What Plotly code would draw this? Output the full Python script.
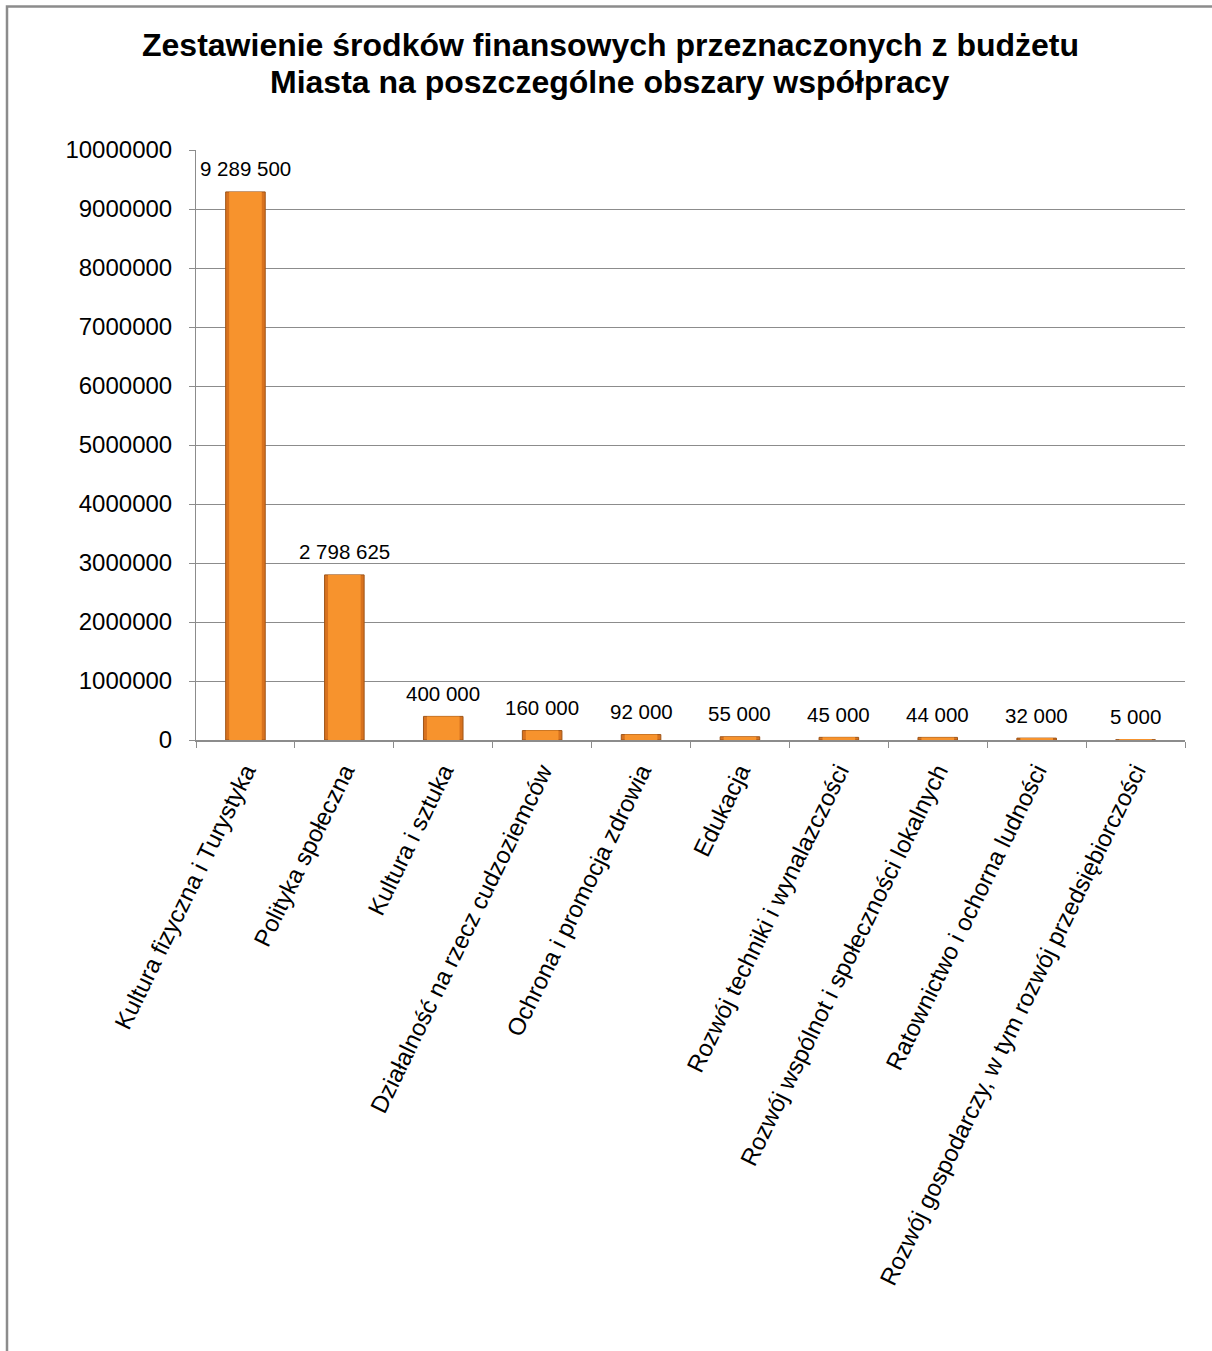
import plotly.graph_objects as go

categories = [
    "Kultura fizyczna i Turystyka",
    "Polityka społeczna",
    "Kultura i sztuka",
    "Działalność na rzecz cudzoziemców",
    "Ochrona i promocja zdrowia",
    "Edukacja",
    "Rozwój techniki i wynalazczości",
    "Rozwój wspólnot i społeczności lokalnych",
    "Ratownictwo i ochorna ludności",
    "Rozwój gospodarczy, w tym rozwój przedsiębiorczości",
]
values = [9289500, 2798625, 400000, 160000, 92000, 55000, 45000, 44000, 32000, 5000]
labels = ["9 289 500", "2 798 625", "400 000", "160 000", "92 000",
          "55 000", "45 000", "44 000", "32 000", "5 000"]
y_ticks = [0, 1000000, 2000000, 3000000, 4000000, 5000000,
           6000000, 7000000, 8000000, 9000000, 10000000]
title_lines = ["Zestawienie środków finansowych przeznaczonych z budżetu",
               "Miasta na poszczególne obszary współpracy"]

W, H = 1212, 1351
L, R, T, B = 196, 1185, 150, 740
FONT = "Liberation Sans, Arial"

fig = go.Figure()
# outer (darker edge) bar
fig.add_trace(go.Bar(
    x=categories, y=values, width=0.4,
    marker=dict(color="#D8721E", line=dict(color="#9E5518", width=1)),
    hoverinfo="skip",
))
# inner lighter fill
fig.add_trace(go.Bar(
    x=categories, y=values, width=0.33,
    marker=dict(color="#F7932D", line=dict(width=0)),
))

# data labels
for c, v, t in zip(categories, values, labels):
    fig.add_annotation(x=c, y=v, text=t, showarrow=False, xref="x", yref="y",
                       yanchor="middle", yshift=23,
                       font=dict(size=20.5, family=FONT, color="#000000"))

# title lines
for i, line in enumerate(title_lines):
    fig.add_annotation(x=610 / W, y=1 - (45 + 37 * i) / H, xref="paper", yref="paper",
                       text="<b>" + line + "</b>", showarrow=False,
                       xanchor="center", yanchor="middle",
                       font=dict(size=32, family=FONT, color="#000000"))

def px_to_paper_x(px):
    return (px - L) / (R - L)

def px_to_paper_y(py):
    return (B - py) / (B - T)

fig.add_shape(type="rect", xref="paper", yref="paper",
              x0=px_to_paper_x(7), x1=px_to_paper_x(1240),
              y0=px_to_paper_y(1380), y1=px_to_paper_y(6.5),
              line=dict(color="#8C8C8C", width=2.5), fillcolor="rgba(0,0,0,0)",
              layer="below")

fig.update_layout(
    width=W, height=H,
    margin=dict(l=L, r=W - R, t=T, b=H - B, autoexpand=False),
    paper_bgcolor="white", plot_bgcolor="white",
    font=dict(family=FONT, color="#000000"),
    showlegend=False,
    barmode="overlay",
)
# move annotations (title) into paper coords relative to full figure
for a in fig.layout.annotations:
    if a.xref == "paper":
        a.update(x=px_to_paper_x(610), y=px_to_paper_y((1 - a.y) * H), yref="paper")

fig.update_yaxes(
    range=[0, 10000000], tickvals=y_ticks, tickformat="d",
    showgrid=True, gridcolor="#8C8C8C", gridwidth=1,
    showline=True, linecolor="#8C8C8C", linewidth=1,
    ticks="outside", ticklen=6, tickcolor="#8C8C8C",
    tickfont=dict(size=24), zeroline=False, ticklabelstandoff=12,
)
fig.update_xaxes(
    showline=True, linecolor="#8C8C8C", linewidth=1.5,
    ticks="outside", ticklen=6, tickcolor="#8C8C8C", tickson="boundaries",
    tickangle=-64, tickfont=dict(size=24), showgrid=False, ticklabelstandoff=6,
)

fig.write_html("out.html", config={"displayModeBar": False},
               post_script="document.body.style.margin='0';")
